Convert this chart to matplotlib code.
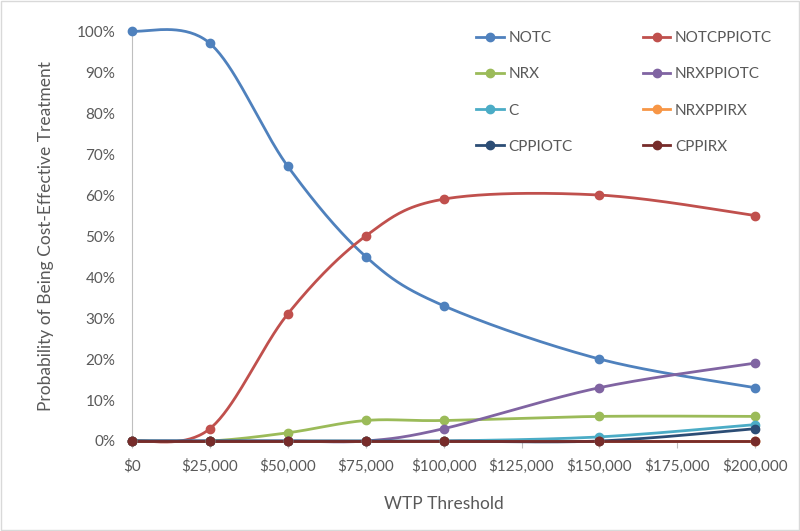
import numpy as np
import matplotlib.pyplot as plt
from matplotlib.patches import Rectangle

plt.rcParams['font.family'] = ['Lato', 'DejaVu Sans']

wtp = [0, 25000, 50000, 75000, 100000, 150000, 200000]
series_names = ['NOTC', 'NOTCPPIOTC', 'NRX', 'NRXPPIOTC', 'C', 'NRXPPIRX', 'CPPIOTC', 'CPPIRX']
notc = [100, 97, 67, 45, 33, 20, 13]
notcppiotc = [0, 3, 31, 50, 59, 60, 55]
nrx = [0, 0, 2, 5, 5, 6, 6]
nrxppiotc = [0, 0, 0, 0, 3, 13, 19]
c = [0, 0, 0, 0, 0, 1, 4]
nrxppirx = [0, 0, 0, 0, 0, 0, 0]
cppiotc = [0, 0, 0, 0, 0, 0, 3]
cppirx = [0, 0, 0, 0, 0, 0, 0]
xtick_vals = [0, 25000, 50000, 75000, 100000, 125000, 150000, 175000, 200000]

colors = ['#4F81BD', '#C0504D', '#9BBB59', '#8064A2', '#4BACC6', '#F79646', '#2C4D75', '#772C2A']
all_vals = [notc, notcppiotc, nrx, nrxppiotc, c, nrxppirx, cppiotc, cppirx]


def smooth(x, y, n=40):
    # Excel-style smoothed line: cubic bezier, control points from neighbours / 6
    x = np.asarray(x, float)
    y = np.asarray(y, float) / 100
    px, py = [], []
    m = len(x)
    t = np.linspace(0, 1, n)
    for i in range(m - 1):
        i0, i3 = max(i - 1, 0), min(i + 2, m - 1)
        c1x = x[i] + (x[i + 1] - x[i0]) / 6
        c1y = y[i] + (y[i + 1] - y[i0]) / 6
        c2x = x[i + 1] - (x[i3] - x[i]) / 6
        c2y = y[i + 1] - (y[i3] - y[i]) / 6
        bx = (1 - t) ** 3 * x[i] + 3 * (1 - t) ** 2 * t * c1x + 3 * (1 - t) * t ** 2 * c2x + t ** 3 * x[i + 1]
        by = (1 - t) ** 3 * y[i] + 3 * (1 - t) ** 2 * t * c1y + 3 * (1 - t) * t ** 2 * c2y + t ** 3 * y[i + 1]
        px.extend(bx)
        py.extend(by)
    return px, py


fig = plt.figure(figsize=(8, 5.31), dpi=100)
ax = fig.add_axes([0.165, 0.1695, 0.779, 0.772])

handles = []
for name, vals, col in zip(series_names, all_vals, colors):
    sx, sy = smooth(wtp, vals)
    ax.plot(sx, sy, color=col, lw=2, clip_on=False, zorder=3)
    ax.plot(wtp, np.array(vals) / 100, 'o', color=col, ms=6, clip_on=False, zorder=4)
    h, = ax.plot([], [], '-o', color=col, lw=2, ms=6, label=name)
    handles.append(h)

ax.set_xlim(0, 200000)
ax.set_ylim(0, 1)
ax.set_xticks(xtick_vals)
ax.set_xticklabels(['${:,}'.format(v) for v in xtick_vals])
ax.set_yticks(np.arange(0, 1.01, 0.1))
ax.set_yticklabels(['{:d}%'.format(int(round(v * 100))) for v in np.arange(0, 1.01, 0.1)])
ax.tick_params(axis='x', length=5, color='#BFBFBF', labelsize=11, labelcolor='#595959', pad=8)
ax.tick_params(axis='y', length=0, labelsize=11, labelcolor='#595959', pad=12)
for s in ['top', 'right']:
    ax.spines[s].set_visible(False)
for s in ['left', 'bottom']:
    ax.spines[s].set_color('#BFBFBF')
ax.set_xlabel('WTP Threshold', fontsize=12.5, color='#595959', labelpad=16)
ax.set_ylabel('Probability of Being Cost-Effective Treatment', fontsize=12.5, color='#595959', labelpad=16)

order = [0, 2, 4, 6, 1, 3, 5, 7]
leg = ax.legend([handles[i] for i in order], [series_names[i] for i in order],
                ncol=2, frameon=False, loc='upper left', bbox_to_anchor=(0.578, 0.967),
                bbox_transform=fig.transFigure, fontsize=11, handlelength=1.8,
                handletextpad=0.3, columnspacing=4.6, labelspacing=1.45)
for t in leg.get_texts():
    t.set_color('#595959')

fig.add_artist(Rectangle((0.001, 0.001), 0.998, 0.997, transform=fig.transFigure,
                         fill=False, edgecolor='#D9D9D9', lw=1))

fig.savefig('out.png', dpi=100)
